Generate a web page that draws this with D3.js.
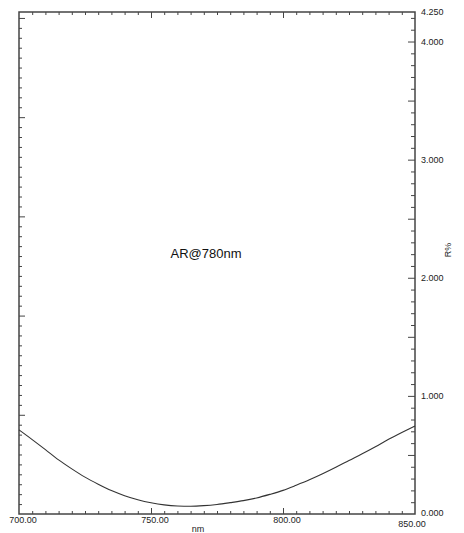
<!DOCTYPE html>
<html lang="en">
  <head>
    <meta charset="UTF-8" />
    <title>AR@780nm</title>
    <script src="https://cdn.jsdelivr.net/npm/d3@7.6.1/dist/d3.min.js"></script>
    <style>
      body { margin: 0; background: #fff; }
      svg { display: block; font-family: 'Liberation Sans', Arial, sans-serif; }
    </style>
  </head>
  <body>
    <div id="box"></div>
    <script>
      const width = 464;
      const height = 533;
      const margin = {left: 19, right: 49, top: 12, bottom: 19};

      // 数据
      const wavelength = [700, 705, 710, 715, 720, 725, 730, 735, 740, 745, 750, 755, 760, 765, 770,
        775, 780, 785, 790, 795, 800, 805, 810, 815, 820, 825, 830, 835, 840, 845, 850];
      const reflectance = [0.712, 0.63, 0.545, 0.458, 0.382, 0.312, 0.252, 0.198, 0.155, 0.121, 0.095,
        0.077, 0.068, 0.066, 0.071, 0.081, 0.096, 0.113, 0.136, 0.166, 0.2, 0.243, 0.289, 0.34,
        0.395, 0.453, 0.51, 0.57, 0.632, 0.69, 0.746];
      const xTickLabels = [700, 750, 800, 850];
      const yTickLabels = [0, 1, 2, 3, 4, 4.25];

      const svg = d3.select('#box').append('svg').attr('width', width).attr('height', height);

      const x = d3.scaleLinear().domain([700, 850]).range([margin.left, width - margin.right]);
      const y = d3.scaleLinear().domain([0, 4.25]).range([height - margin.bottom, margin.top]);
      // 左轴只有刻度没有数字
      const yLeft = d3.scaleLinear().domain([0, 50.6]).range([height - margin.bottom, margin.top]);

      const axisColor = '#444';

      // 上下刻度 (每5nm)
      const xMinor = d3.range(705, 850, 5);
      const isMajorX = d => d % 50 === 0;

      svg.append('g')
        .attr('transform', `translate(0,${y(0)})`)
        .call(d3.axisBottom(x).tickValues(xMinor).tickSize(-3).tickFormat(''))
        .call(g => g.select('.domain').remove())
        .call(g => g.selectAll('.tick line').attr('stroke', axisColor)
          .attr('y2', d => isMajorX(d) ? -6 : -3));

      svg.append('g')
        .attr('transform', `translate(0,${y(4.25)})`)
        .call(d3.axisTop(x).tickValues(xMinor).tickSize(-3).tickFormat(''))
        .call(g => g.select('.domain').remove())
        .call(g => g.selectAll('.tick line').attr('stroke', axisColor)
          .attr('y2', d => isMajorX(d) ? 6 : 3));

      // x 轴标签 (850.00 稍微偏下偏左)
      svg.append('g')
        .selectAll('text')
        .data(xTickLabels)
        .enter()
        .append('text')
        .attr('x', d => x(d) + (d === 850 ? -3 : 4))
        .attr('y', d => y(0) + (d === 850 ? 13 : 9))
        .attr('text-anchor', 'middle')
        .attr('font-size', 9)
        .attr('fill', '#222')
        .text(d => d.toFixed(2));

      svg.append('text')
        .attr('x', 198)
        .attr('y', 532)
        .attr('text-anchor', 'middle')
        .attr('font-size', 9)
        .attr('fill', '#222')
        .text('nm');

      // 左侧刻度
      svg.append('g')
        .attr('transform', `translate(${x(700)},0)`)
        .call(d3.axisRight(yLeft).tickValues(d3.range(1, 51)).tickSize(3).tickFormat(''))
        .call(g => g.select('.domain').remove())
        .call(g => g.selectAll('.tick line').attr('stroke', axisColor)
          .attr('x2', d => d % 10 === 0 ? 6 : 3));

      // 右侧刻度 (每0.1)
      const yMinor = d3.range(1, 43).map(d => d / 10);
      svg.append('g')
        .attr('transform', `translate(${x(850)},0)`)
        .call(d3.axisLeft(y).tickValues(yMinor).tickSize(4).tickFormat(''))
        .call(g => g.select('.domain').remove())
        .call(g => g.selectAll('.tick line').attr('stroke', axisColor)
          .attr('x2', d => Math.round(d * 10) % 5 === 0 ? -7 : -4));

      svg.append('g')
        .selectAll('text')
        .data(yTickLabels)
        .enter()
        .append('text')
        .attr('x', x(850) + 6)
        .attr('y', d => y(d) + (d === 0 ? 2 : 3))
        .attr('font-size', 9)
        .attr('fill', '#222')
        .text(d => d.toFixed(3));

      svg.append('text')
        .attr('transform', `translate(451,250) rotate(-90)`)
        .attr('text-anchor', 'middle')
        .attr('font-size', 9)
        .attr('fill', '#222')
        .text('R%');

      // 边框
      svg.append('rect')
        .attr('x', x(700))
        .attr('y', y(4.25))
        .attr('width', x(850) - x(700))
        .attr('height', y(0) - y(4.25))
        .attr('fill', 'none')
        .attr('stroke', axisColor)
        .attr('stroke-width', 1.5);

      // 曲线
      const line = d3.line()
        .x((d, i) => x(wavelength[i]))
        .y(d => y(d))
        .curve(d3.curveMonotoneX);

      svg.append('path')
        .datum(reflectance)
        .attr('d', line)
        .attr('fill', 'none')
        .attr('stroke', '#333')
        .attr('stroke-width', 1.1);

      svg.append('text')
        .attr('x', 206)
        .attr('y', 258)
        .attr('text-anchor', 'middle')
        .attr('font-size', 13)
        .attr('fill', '#111')
        .text('AR@780nm');
    </script>
  </body>
</html>
